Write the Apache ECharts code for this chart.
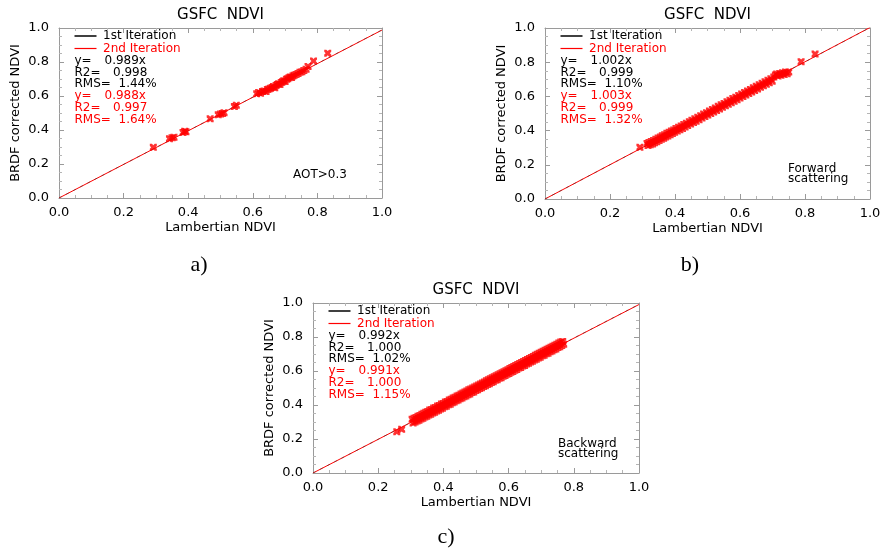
<!DOCTYPE html>
<html>
<head>
<meta charset="utf-8">
<script src="https://cdn.jsdelivr.net/npm/echarts@6/dist/echarts.min.js"></script>
<style>
html, body { margin: 0; padding: 0; background: #fff; }
#main { width: 886px; height: 551px; }
</style>
</head>
<body>
<div id="main"></div>
<script>
// ---- values drawn in the three panels ----
const tickValues = [0.0, 0.2, 0.4, 0.6, 0.8, 1.0];
const panelTags = ['a)', 'b)', 'c)'];
const panelTitle = 'GSFC  NDVI';
const xName = 'Lambertian NDVI';
const yName = 'BRDF corrected NDVI';
const notes = ['AOT>0.3', 'Forward\nscattering', 'Backward\nscattering'];
const iterNames = ['1st Iteration', '2nd Iteration'];

// regression results, 1st and 2nd iteration
const slopeFirst = [0.989, 1.002, 0.992];
const r2First = ['0.998', '0.999', '1.000'];
const rmsFirst = ['1.44%', '1.10%', '1.02%'];
const slopeSecond = [0.988, 1.003, 0.991];
const r2Second = ['0.997', '0.999', '1.000'];
const rmsSecond = ['1.64%', '1.32%', '1.15%'];

// [Lambertian NDVI, BRDF corrected NDVI]
const aotPoints = [
  [0.292,0.298],[0.342,0.349],[0.350,0.354],[0.356,0.357],[0.384,0.386],[0.389,0.392],[0.393,0.389],
  [0.468,0.466],[0.493,0.489],[0.500,0.494],[0.506,0.497],[0.511,0.502],[0.543,0.538],[0.549,0.545],
  [0.612,0.613],[0.618,0.620],[0.624,0.616],[0.630,0.626],[0.635,0.630],[0.641,0.627],[0.645,0.638],
  [0.650,0.641],[0.655,0.646],[0.660,0.650],[0.664,0.656],[0.668,0.649],[0.672,0.662],[0.676,0.668],
  [0.680,0.672],[0.684,0.668],[0.688,0.680],[0.692,0.684],[0.696,0.690],[0.700,0.686],[0.704,0.698],
  [0.708,0.702],[0.712,0.707],[0.716,0.712],[0.720,0.709],[0.724,0.717],[0.728,0.722],[0.734,0.727],
  [0.740,0.733],[0.746,0.740],[0.752,0.743],[0.758,0.750],[0.765,0.757],[0.771,0.774],
  [0.788,0.806],[0.832,0.852]
];

const forwardPoints = [
  [0.292,0.302],
  [0.314,0.325],[0.317,0.313],[0.320,0.330],[0.324,0.317],[0.327,0.336],[0.331,0.322],[0.334,0.342],
  [0.337,0.329],[0.341,0.349],[0.344,0.335],[0.348,0.356],[0.351,0.342],[0.355,0.362],[0.358,0.349],
  [0.361,0.370],[0.365,0.355],[0.368,0.376],[0.371,0.362],[0.375,0.384],[0.378,0.369],[0.382,0.390],
  [0.385,0.376],[0.389,0.397],[0.392,0.383],[0.396,0.404],[0.399,0.390],[0.403,0.412],[0.407,0.397],
  [0.411,0.419],[0.415,0.405],[0.419,0.427],[0.423,0.413],[0.427,0.435],[0.431,0.421],[0.435,0.443],
  [0.439,0.430],[0.444,0.452],[0.448,0.438],[0.452,0.461],[0.457,0.447],[0.461,0.469],[0.465,0.455],
  [0.470,0.478],[0.474,0.464],[0.479,0.487],[0.483,0.473],[0.488,0.497],[0.492,0.482],[0.497,0.505],
  [0.501,0.491],[0.506,0.514],[0.510,0.500],[0.515,0.524],[0.519,0.509],[0.524,0.532],[0.528,0.518],
  [0.533,0.542],[0.537,0.527],[0.542,0.551],[0.546,0.536],[0.551,0.559],[0.555,0.545],[0.560,0.569],
  [0.564,0.554],[0.569,0.578],[0.573,0.563],[0.578,0.587],[0.582,0.572],[0.587,0.595],[0.591,0.581],
  [0.596,0.605],[0.600,0.590],[0.605,0.614],[0.609,0.599],[0.614,0.623],[0.618,0.608],[0.623,0.632],
  [0.627,0.617],[0.632,0.641],[0.636,0.626],[0.641,0.650],[0.645,0.635],[0.650,0.659],[0.654,0.644],
  [0.659,0.668],[0.663,0.653],[0.668,0.677],[0.672,0.662],[0.677,0.686],[0.681,0.671],[0.686,0.695],
  [0.690,0.680],[0.695,0.703],[0.699,0.689],[0.704,0.713],[0.709,0.725],[0.713,0.731],[0.717,0.720],
  [0.722,0.734],[0.726,0.724],[0.731,0.738],[0.736,0.728],[0.740,0.743],[0.745,0.733],[0.750,0.742],
  [0.788,0.803],[0.831,0.848]
];

const backwardPoints = [
  [0.257,0.243],[0.272,0.257],
  [0.304,0.316],[0.307,0.294],[0.310,0.322],[0.313,0.300],[0.316,0.327],[0.319,0.306],[0.322,0.334],
  [0.325,0.311],[0.328,0.338],[0.331,0.318],[0.334,0.346],[0.337,0.322],[0.340,0.351],[0.343,0.330],
  [0.346,0.358],[0.349,0.334],[0.352,0.362],[0.355,0.341],[0.358,0.370],[0.361,0.346],[0.364,0.374],
  [0.367,0.353],[0.370,0.382],[0.373,0.357],[0.376,0.386],[0.379,0.365],[0.382,0.394],[0.385,0.369],
  [0.388,0.397],[0.391,0.377],[0.394,0.406],[0.397,0.381],[0.400,0.409],[0.403,0.389],[0.406,0.418],
  [0.409,0.393],[0.412,0.421],[0.415,0.401],[0.418,0.429],[0.421,0.405],[0.424,0.434],[0.427,0.413],
  [0.430,0.441],[0.433,0.417],[0.436,0.446],[0.439,0.425],[0.442,0.453],[0.445,0.429],[0.448,0.458],
  [0.451,0.437],[0.454,0.465],[0.457,0.441],[0.460,0.470],[0.463,0.449],[0.466,0.477],[0.469,0.453],
  [0.472,0.482],[0.475,0.461],[0.478,0.489],[0.481,0.465],[0.484,0.494],[0.487,0.473],[0.490,0.500],
  [0.493,0.477],[0.496,0.506],[0.499,0.485],[0.502,0.512],[0.505,0.489],[0.508,0.518],[0.511,0.497],
  [0.514,0.524],[0.517,0.501],[0.520,0.530],[0.523,0.509],[0.526,0.536],[0.529,0.513],[0.532,0.542],
  [0.535,0.521],[0.538,0.548],[0.541,0.525],[0.544,0.554],[0.547,0.533],[0.550,0.560],[0.553,0.537],
  [0.556,0.566],[0.559,0.545],[0.562,0.572],[0.565,0.549],[0.568,0.578],[0.571,0.557],[0.574,0.584],
  [0.577,0.561],[0.580,0.590],[0.583,0.569],[0.586,0.596],[0.589,0.573],[0.592,0.602],[0.595,0.581],
  [0.598,0.608],[0.601,0.585],[0.604,0.614],[0.607,0.593],[0.610,0.620],[0.613,0.597],[0.616,0.626],
  [0.619,0.605],[0.622,0.632],[0.625,0.609],[0.628,0.638],[0.631,0.617],[0.634,0.644],[0.637,0.621],
  [0.640,0.650],[0.643,0.629],[0.646,0.656],[0.649,0.633],[0.652,0.662],[0.655,0.641],[0.658,0.668],
  [0.661,0.645],[0.664,0.674],[0.667,0.653],[0.670,0.680],[0.673,0.657],[0.676,0.686],[0.679,0.665],
  [0.682,0.692],[0.685,0.669],[0.688,0.698],[0.691,0.677],[0.694,0.704],[0.697,0.681],[0.700,0.710],
  [0.703,0.689],[0.706,0.716],[0.709,0.693],[0.712,0.722],[0.715,0.701],[0.718,0.728],[0.721,0.705],
  [0.724,0.734],[0.727,0.713],[0.730,0.740],[0.733,0.718],[0.736,0.746],[0.739,0.725],[0.742,0.752],
  [0.745,0.730],[0.748,0.758],[0.751,0.738],[0.754,0.764],[0.757,0.743],[0.760,0.770],[0.763,0.750],
  [0.766,0.774],[0.769,0.758]
];

const panelPoints = [aotPoints, forwardPoints, backwardPoints];

// ---- layout ----
const boxes = [
  { left: 59,  top: 28,  width: 323, height: 170 },
  { left: 545, top: 28,  width: 325, height: 171 },
  { left: 313, top: 303, width: 326, height: 170 }
];
const tagCenters = [[199, 265], [690, 265], [446, 537]];
const noteOffsets = [[234, 142], [243, 136], [245, 136]];

const FONT = '"DejaVu Sans", "Liberation Sans", sans-serif';
const RED = '#ff0000';
const BOX = '#9a9a9a';
const X_MARK = 'path://M0,0H3L5,2L7,0H10V3L8,5L10,7V10H7L5,8L3,10H0V7L2,5L0,3Z';

function axisBase(pos, showLabel, isY) {
  return {
    type: 'value', min: tickValues[0], max: tickValues[tickValues.length - 1],
    interval: tickValues[1] - tickValues[0],
    position: pos,
    axisLine: { show: true, onZero: false, lineStyle: { color: BOX, width: 1 } },
    axisTick: { show: true, inside: true, length: 5, lineStyle: { color: BOX } },
    minorTick: { show: true, splitNumber: 4, length: 3, lineStyle: { color: '#b5b5b5' } },
    splitLine: { show: false },
    axisLabel: {
      show: showLabel, color: '#000', fontFamily: FONT, fontSize: 13,
      margin: isY ? 10 : 8,
      formatter: v => v.toFixed(1)
    }
  };
}

const grid = [], xAxis = [], yAxis = [], series = [], graphic = [];

boxes.forEach((b, i) => {
  grid.push({ left: b.left, top: b.top, width: b.width, height: b.height, containLabel: false });

  const xb = axisBase('bottom', true, false);
  xb.gridIndex = i;
  xb.name = xName; xb.nameLocation = 'middle'; xb.nameGap = 23;
  xb.nameTextStyle = { color: '#000', fontFamily: FONT, fontSize: 13 };
  const xt = axisBase('top', false, false);
  xt.gridIndex = i;
  const yl = axisBase('left', true, true);
  yl.gridIndex = i;
  yl.name = yName; yl.nameLocation = 'middle'; yl.nameGap = 37;
  yl.nameTextStyle = { color: '#000', fontFamily: FONT, fontSize: 13 };
  const yr = axisBase('right', false, true);
  yr.gridIndex = i;
  xAxis.push(xb, xt);
  yAxis.push(yl, yr);

  const xi = i * 2, yi = i * 2;
  // fitted lines y = slope * x
  series.push({
    type: 'line', xAxisIndex: xi, yAxisIndex: yi, silent: true, showSymbol: false, z: 2,
    data: [[0, 0], [1, slopeSecond[i]]],
    lineStyle: { color: RED, width: 1 }
  });
  series.push({
    type: 'line', xAxisIndex: xi, yAxisIndex: yi, silent: true, showSymbol: false, z: 3,
    data: [[0, 0], [1, slopeFirst[i]]],
    lineStyle: { color: '#333', width: 1, type: [3, 5], opacity: 0.5 }
  });
  series.push({
    type: 'scatter', xAxisIndex: xi, yAxisIndex: yi, silent: true, z: 4,
    symbol: X_MARK, symbolSize: 7,
    data: panelPoints[i],
    itemStyle: { color: RED }
  });

  // title
  graphic.push({
    type: 'text', x: b.left + b.width / 2, y: b.top - 13, silent: true,
    style: { text: panelTitle, fill: '#000', font: '15px ' + FONT,
             textAlign: 'center', textVerticalAlign: 'middle', align: 'center', verticalAlign: 'middle' }
  });

  // in-plot legend and statistics
  const rows = [8, 20.5, 33, 44.5, 56, 68, 80, 92];
  const lx = b.left + 15.5;
  const addText = (txt, x, y, color) => graphic.push({
    type: 'text', x: x, y: b.top + y, silent: true,
    style: { text: txt, fill: color, font: '12px ' + FONT,
             textAlign: 'left', textVerticalAlign: 'middle', align: 'left', verticalAlign: 'middle' }
  });
  graphic.push({ type: 'line', silent: true,
    shape: { x1: lx, y1: b.top + rows[0], x2: lx + 22, y2: b.top + rows[0] },
    style: { stroke: '#000', lineWidth: 1.5 } });
  graphic.push({ type: 'line', silent: true,
    shape: { x1: lx, y1: b.top + rows[1], x2: lx + 22, y2: b.top + rows[1] },
    style: { stroke: RED, lineWidth: 1.2 } });
  addText(iterNames[0], b.left + 44, rows[0], '#000');
  addText(iterNames[1], b.left + 44, rows[1], RED);
  const stats = [
    ['y=', slopeFirst[i].toFixed(3) + 'x', 30, '#000'],
    ['R2=', r2First[i], 38.5, '#000'],
    ['RMS=', rmsFirst[i], 44, '#000'],
    ['y=', slopeSecond[i].toFixed(3) + 'x', 30, RED],
    ['R2=', r2Second[i], 38.5, RED],
    ['RMS=', rmsSecond[i], 44, RED]
  ];
  stats.forEach((s, k) => {
    addText(s[0], lx, rows[k + 2], s[3]);
    addText(s[1], lx + s[2], rows[k + 2], s[3]);
  });

  // case note in lower right
  graphic.push({
    type: 'text', x: b.left + noteOffsets[i][0], y: b.top + noteOffsets[i][1], silent: true,
    style: { text: notes[i], fill: '#000', font: '12px ' + FONT, lineHeight: 10,
             textAlign: 'left', textVerticalAlign: 'top', align: 'left', verticalAlign: 'top' }
  });

  // sub-figure tag
  graphic.push({
    type: 'text', x: tagCenters[i][0], y: tagCenters[i][1], silent: true,
    style: { text: panelTags[i], fill: '#000', font: '22px "Liberation Serif", "Times New Roman", serif',
             textAlign: 'center', textVerticalAlign: 'middle', align: 'center', verticalAlign: 'middle' }
  });
});

const chart = echarts.init(document.getElementById('main'), null, { renderer: 'canvas' });
chart.setOption({
  backgroundColor: '#ffffff',
  animation: false,
  grid: grid,
  xAxis: xAxis,
  yAxis: yAxis,
  series: series,
  graphic: graphic
});
</script>
</body>
</html>
